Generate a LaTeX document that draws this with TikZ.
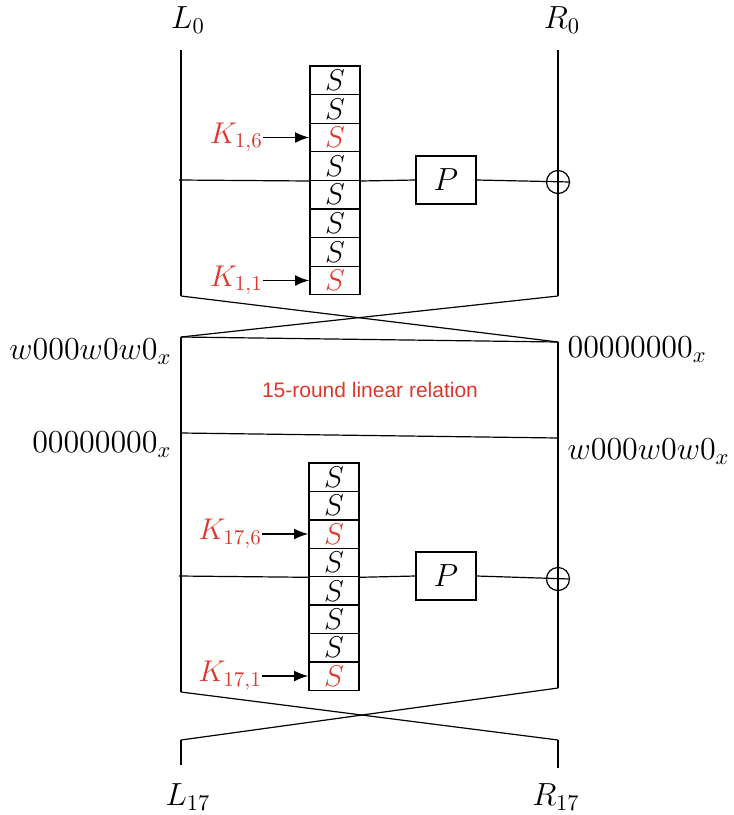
\RequirePackage{fix-cm}
\documentclass[tikz,border=0pt]{standalone}
\usepackage{fontspec}
\setsansfont{Liberation Sans}
\usetikzlibrary{positioning, arrows.meta}
\definecolor{keyred}{RGB}{222,56,42}

\begin{document}
\begin{tikzpicture}[ x=0.5pt, y=-0.5pt, line width=0.6pt, sbox/.style={ rectangle, draw, minimum width=25pt, minimum height=14.3pt, inner sep=0pt, font=\fontsize{15}{17}\selectfont }, pbox/.style={ rectangle, draw, minimum width=30pt, minimum height=24pt, inner sep=0pt, font=\fontsize{16}{19}\selectfont }, xorop/.style={ circle, draw, minimum size=11.5pt, inner sep=0pt }, lbl/.style={ inner sep=0pt, font=\fontsize{16}{19}\selectfont }, klbl/.style={ inner sep=0pt, text=keyred, font=\fontsize{15}{18}\selectfont }, karrow/.style={ -{Latex[length=2.5mm, width=1.9mm]}, line width=0.9pt }, relText/.style={ text=keyred, font=\sffamily\fontsize{10.5}{12}\selectfont } ]
\useasboundingbox (0,0) rectangle (734,815);

% --- Ingressi ---
\node[lbl] (l0) at (188,20) {$L_0$};
\node[lbl] (r0) at (562,20) {$R_0$};

% --- Round 1 ---
\coordinate (lt0) at (181,50); \coordinate (rt0) at (558,50);
\coordinate (la) at (179,180);
\coordinate (lb0) at (181,296); \coordinate (rb0) at (558,296);

\foreach \j/\c in {8/black,7/black,6/keyred,5/black,4/black,3/black,2/black,1/keyred}
  \node[sbox, text=\c] (sa\j) at (335,{66+28.6*(8.5-\j)}) {$S$};

\node[pbox] (pa) at (446,180) {$P$};
\node[xorop] (xa) at (558,182) {};

\node[klbl, left=23pt of sa6.west, anchor=east] (k16) {$K_{1,6}$};
\node[klbl, left=23pt of sa1.west, anchor=east] (k11) {$K_{1,1}$};

\draw (lt0) -- (lb0); \draw (rt0) -- (rb0);
\draw (la) -- (sa5.south west); \draw (sa5.south east) -- (pa.west); \draw (pa.east) -- (xa.east);
\draw[karrow] (k16) -- (sa6.west); \draw[karrow] (k11) -- (sa1.west);

% --- Relazione lineare ---
\coordinate (lt1) at (181,337); \coordinate (rt1) at (558,342);
\coordinate (lm1) at (181,433); \coordinate (rm1) at (558,438);
\coordinate (lb1) at (181,692); \coordinate (rb1) at (558,688);

\draw (lb0) -- (rt1); \draw (rb0) -- (lt1);
\draw (lt1) -- (rt1); \draw (lm1) -- (rm1);
\draw (lt1) -- (lb1); \draw (rt1) -- (rb1);

\node[relText] (rel) at (370,390) {15-round linear relation};

\node[lbl, anchor=east] (wl) at (172,352) {$w000w0w0_x$};
\node[lbl, anchor=east] (zl) at (172,445) {$00000000_x$};
\node[lbl, anchor=west] (zr) at (567,350) {$00000000_x$};
\node[lbl, anchor=west] (wr) at (567,452) {$w000w0w0_x$};

% --- Round 17 ---
\coordinate (lc) at (179,576);

\foreach \j/\c in {8/black,7/black,6/keyred,5/black,4/black,3/black,2/black,1/keyred}
  \node[sbox, text=\c] (sb\j) at (334,{463+28.4*(8.5-\j)}) {$S$};

\node[pbox] (pb) at (446,576) {$P$};
\node[xorop] (xb) at (558,579) {};

\node[klbl, left=23pt of sb6.west, anchor=east] (k176) {$K_{17,6}$};
\node[klbl, left=23pt of sb1.west, anchor=east] (k171) {$K_{17,1}$};

\draw (lc) -- (sb5.south west); \draw (sb5.south east) -- (pb.west); \draw (pb.east) -- (xb.east);
\draw[karrow] (k176) -- (sb6.west); \draw[karrow] (k171) -- (sb1.west);

% --- Uscite ---
\coordinate (lt2) at (181,740); \coordinate (rt2) at (558,740);
\coordinate (le) at (181,765); \coordinate (re) at (558,768);

\draw (lb1) -- (rt2); \draw (rb1) -- (lt2);
\draw (lt2) -- (le); \draw (rt2) -- (re);

\node[lbl] (l17) at (188,797) {$L_{17}$};
\node[lbl] (r17) at (556,797) {$R_{17}$};
\end{tikzpicture}
\end{document}
